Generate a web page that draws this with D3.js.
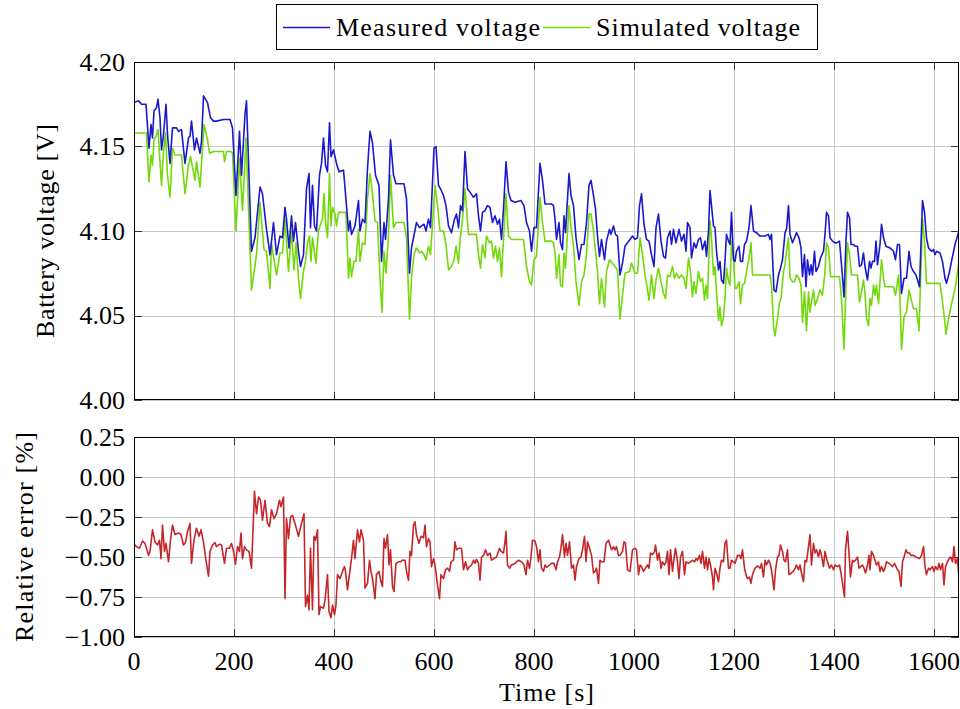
<!DOCTYPE html>
<html>
<head>
<meta charset="utf-8">
<script src="https://cdn.jsdelivr.net/npm/d3@7"></script>
<style>
  body { margin: 0; background: #fff; }
  text { font-family: "Liberation Serif", "Times New Roman", serif; fill: #000; }
</style>
</head>
<body>
<div id="chart"></div>
<script>
// ---- data ----
var timeTicks = [0, 200, 400, 600, 800, 1000, 1200, 1400, 1600];
var voltTicks = [4.00, 4.05, 4.10, 4.15, 4.20];
var errTicks = [0.25, 0, -0.25, -0.5, -0.75, -1.0];
var seriesNames = ["Measured voltage", "Simulated voltage"];

// [time s, voltage V]
var measured = [[0,4.176],[9,4.177],[15,4.175],[24,4.175],[30,4.149],[34,4.163],[37,4.155],[40,4.171],[45,4.173],[48,4.178],[52,4.167],[55,4.148],[59,4.157],[64,4.175],[67,4.157],[72,4.140],[77,4.161],[85,4.161],[89,4.159],[95,4.160],[102,4.140],[109,4.155],[112,4.156],[115,4.165],[121,4.148],[125,4.155],[132,4.146],[135,4.153],[139,4.180],[147,4.176],[153,4.167],[159,4.165],[165,4.165],[179,4.166],[192,4.166],[197,4.161],[204,4.121],[211,4.159],[215,4.133],[222,4.169],[225,4.177],[235,4.088],[242,4.096],[252,4.126],[257,4.122],[265,4.101],[272,4.086],[279,4.105],[285,4.086],[292,4.097],[297,4.096],[302,4.114],[305,4.107],[310,4.090],[315,4.109],[319,4.094],[323,4.105],[329,4.088],[333,4.079],[339,4.086],[345,4.125],[350,4.134],[353,4.102],[357,4.127],[361,4.103],[365,4.100],[371,4.133],[375,4.140],[379,4.155],[383,4.139],[387,4.135],[391,4.164],[394,4.144],[399,4.148],[405,4.140],[410,4.135],[419,4.136],[425,4.115],[429,4.100],[432,4.106],[435,4.098],[442,4.103],[449,4.118],[452,4.100],[457,4.107],[462,4.105],[467,4.137],[472,4.159],[477,4.152],[483,4.133],[490,4.127],[495,4.082],[500,4.105],[503,4.095],[509,4.119],[513,4.154],[519,4.133],[524,4.128],[540,4.128],[545,4.119],[551,4.075],[555,4.090],[559,4.096],[565,4.105],[571,4.102],[575,4.103],[580,4.104],[584,4.100],[589,4.107],[593,4.102],[600,4.149],[604,4.150],[609,4.127],[613,4.125],[619,4.121],[624,4.115],[629,4.103],[635,4.099],[641,4.107],[645,4.110],[649,4.102],[653,4.115],[657,4.112],[662,4.147],[667,4.125],[672,4.123],[679,4.120],[685,4.122],[689,4.109],[693,4.100],[697,4.111],[702,4.112],[707,4.115],[712,4.114],[717,4.105],[722,4.109],[727,4.104],[731,4.107],[735,4.095],[739,4.113],[744,4.141],[749,4.123],[754,4.118],[762,4.117],[774,4.118],[780,4.115],[785,4.105],[791,4.100],[795,4.088],[800,4.102],[805,4.102],[812,4.140],[817,4.130],[822,4.116],[835,4.116],[839,4.115],[842,4.107],[845,4.095],[850,4.105],[853,4.093],[857,4.089],[860,4.109],[863,4.099],[870,4.134],[874,4.121],[879,4.115],[884,4.096],[890,4.083],[895,4.092],[900,4.092],[905,4.105],[910,4.127],[914,4.130],[919,4.121],[923,4.113],[927,4.097],[931,4.085],[935,4.095],[941,4.083],[945,4.094],[951,4.101],[954,4.098],[959,4.103],[963,4.098],[967,4.097],[972,4.074],[977,4.081],[982,4.091],[987,4.093],[992,4.095],[997,4.097],[1002,4.095],[1007,4.096],[1011,4.115],[1015,4.122],[1020,4.104],[1025,4.095],[1030,4.094],[1035,4.086],[1040,4.079],[1044,4.102],[1049,4.110],[1054,4.094],[1059,4.085],[1063,4.084],[1067,4.096],[1072,4.100],[1075,4.092],[1079,4.101],[1084,4.093],[1090,4.101],[1095,4.094],[1100,4.098],[1104,4.088],[1107,4.105],[1112,4.102],[1115,4.084],[1120,4.093],[1124,4.090],[1129,4.095],[1133,4.096],[1137,4.089],[1142,4.094],[1145,4.085],[1149,4.100],[1152,4.124],[1155,4.115],[1159,4.103],[1162,4.102],[1165,4.088],[1169,4.077],[1172,4.082],[1175,4.071],[1179,4.069],[1182,4.082],[1185,4.098],[1189,4.094],[1192,4.092],[1195,4.111],[1199,4.083],[1202,4.082],[1205,4.088],[1210,4.091],[1213,4.082],[1217,4.082],[1221,4.092],[1225,4.094],[1230,4.102],[1234,4.115],[1239,4.100],[1245,4.099],[1252,4.097],[1262,4.097],[1269,4.098],[1272,4.095],[1275,4.098],[1280,4.065],[1284,4.064],[1289,4.074],[1293,4.078],[1297,4.083],[1302,4.099],[1305,4.101],[1309,4.115],[1312,4.098],[1317,4.093],[1321,4.096],[1325,4.099],[1330,4.096],[1334,4.090],[1337,4.073],[1341,4.086],[1344,4.067],[1347,4.083],[1351,4.074],[1354,4.080],[1357,4.074],[1361,4.088],[1364,4.076],[1369,4.079],[1373,4.084],[1379,4.088],[1382,4.098],[1385,4.111],[1389,4.109],[1392,4.096],[1397,4.094],[1402,4.093],[1405,4.093],[1411,4.094],[1415,4.080],[1420,4.061],[1424,4.094],[1427,4.111],[1431,4.108],[1434,4.092],[1439,4.092],[1442,4.091],[1447,4.091],[1451,4.079],[1455,4.080],[1459,4.087],[1462,4.079],[1467,4.071],[1471,4.082],[1474,4.078],[1477,4.082],[1481,4.082],[1484,4.094],[1487,4.080],[1492,4.092],[1495,4.104],[1499,4.096],[1504,4.091],[1512,4.090],[1519,4.088],[1523,4.083],[1527,4.092],[1531,4.092],[1535,4.063],[1540,4.072],[1545,4.072],[1550,4.088],[1554,4.079],[1559,4.076],[1564,4.074],[1567,4.071],[1571,4.067],[1577,4.118],[1581,4.111],[1585,4.096],[1589,4.090],[1595,4.088],[1599,4.089],[1602,4.086],[1605,4.088],[1612,4.087],[1617,4.082],[1622,4.072],[1625,4.069],[1631,4.076],[1635,4.082],[1642,4.092],[1650,4.100]];

var simulated = [[0,4.158],[25,4.158],[30,4.129],[34,4.145],[37,4.139],[40,4.154],[44,4.156],[48,4.160],[55,4.127],[59,4.147],[63,4.158],[67,4.133],[72,4.120],[77,4.149],[82,4.145],[89,4.145],[95,4.145],[102,4.122],[109,4.139],[113,4.144],[122,4.130],[125,4.141],[132,4.126],[140,4.163],[147,4.154],[151,4.146],[159,4.147],[179,4.147],[181,4.141],[185,4.147],[194,4.147],[197,4.146],[204,4.100],[211,4.143],[217,4.112],[224,4.155],[235,4.065],[245,4.086],[252,4.117],[260,4.089],[265,4.088],[272,4.066],[275,4.093],[282,4.079],[285,4.074],[292,4.087],[297,4.087],[302,4.107],[309,4.076],[315,4.100],[320,4.077],[324,4.093],[329,4.072],[333,4.060],[339,4.076],[343,4.082],[347,4.093],[351,4.097],[354,4.082],[357,4.096],[364,4.081],[369,4.100],[372,4.103],[377,4.107],[380,4.122],[383,4.105],[387,4.096],[391,4.134],[394,4.103],[397,4.114],[402,4.110],[405,4.103],[409,4.111],[424,4.111],[429,4.072],[432,4.084],[435,4.073],[440,4.082],[444,4.082],[449,4.101],[452,4.082],[457,4.093],[462,4.092],[467,4.119],[472,4.134],[477,4.122],[482,4.106],[487,4.105],[492,4.072],[496,4.052],[500,4.088],[504,4.075],[509,4.098],[513,4.133],[519,4.102],[524,4.105],[540,4.105],[545,4.096],[551,4.048],[555,4.072],[560,4.086],[565,4.090],[571,4.087],[575,4.088],[580,4.086],[584,4.083],[589,4.091],[593,4.086],[597,4.104],[602,4.127],[607,4.115],[612,4.100],[619,4.100],[624,4.092],[629,4.077],[635,4.079],[640,4.083],[644,4.091],[649,4.081],[652,4.094],[657,4.107],[662,4.125],[669,4.098],[685,4.098],[689,4.086],[693,4.078],[697,4.092],[702,4.084],[705,4.097],[711,4.093],[715,4.094],[719,4.084],[723,4.091],[727,4.082],[731,4.090],[735,4.073],[739,4.095],[744,4.122],[749,4.097],[755,4.095],[779,4.095],[785,4.079],[791,4.070],[795,4.068],[800,4.083],[805,4.085],[812,4.120],[817,4.105],[822,4.094],[835,4.094],[839,4.093],[842,4.087],[845,4.072],[850,4.086],[853,4.068],[857,4.067],[860,4.087],[863,4.078],[870,4.115],[874,4.102],[879,4.091],[884,4.070],[890,4.056],[895,4.070],[900,4.074],[905,4.086],[910,4.110],[914,4.110],[919,4.100],[923,4.088],[927,4.076],[931,4.057],[935,4.072],[941,4.055],[945,4.076],[951,4.083],[959,4.080],[967,4.077],[972,4.048],[977,4.062],[982,4.075],[991,4.076],[995,4.081],[1002,4.075],[1007,4.075],[1012,4.096],[1017,4.086],[1022,4.074],[1025,4.069],[1030,4.059],[1035,4.074],[1040,4.060],[1044,4.071],[1049,4.078],[1054,4.070],[1059,4.063],[1063,4.060],[1067,4.074],[1072,4.073],[1077,4.079],[1081,4.072],[1085,4.075],[1090,4.072],[1095,4.074],[1100,4.072],[1104,4.066],[1109,4.084],[1113,4.076],[1117,4.061],[1120,4.070],[1124,4.063],[1129,4.076],[1133,4.070],[1137,4.072],[1141,4.059],[1144,4.068],[1147,4.060],[1152,4.106],[1155,4.096],[1159,4.074],[1162,4.079],[1165,4.064],[1169,4.047],[1172,4.055],[1175,4.044],[1179,4.049],[1182,4.060],[1185,4.078],[1189,4.070],[1192,4.068],[1195,4.094],[1199,4.084],[1202,4.066],[1205,4.066],[1210,4.070],[1213,4.057],[1217,4.068],[1221,4.069],[1225,4.076],[1230,4.084],[1234,4.093],[1237,4.074],[1272,4.074],[1275,4.068],[1279,4.044],[1282,4.038],[1287,4.048],[1291,4.058],[1294,4.060],[1299,4.076],[1302,4.080],[1305,4.088],[1309,4.096],[1312,4.072],[1317,4.070],[1321,4.070],[1325,4.074],[1330,4.072],[1334,4.068],[1337,4.046],[1341,4.064],[1345,4.041],[1349,4.064],[1352,4.052],[1355,4.058],[1359,4.065],[1362,4.056],[1367,4.060],[1372,4.065],[1377,4.062],[1382,4.076],[1385,4.093],[1389,4.090],[1393,4.073],[1411,4.073],[1415,4.060],[1420,4.030],[1424,4.068],[1427,4.093],[1431,4.086],[1435,4.074],[1447,4.074],[1451,4.058],[1455,4.064],[1459,4.071],[1462,4.063],[1465,4.048],[1469,4.044],[1472,4.060],[1475,4.056],[1479,4.068],[1482,4.062],[1485,4.068],[1489,4.057],[1492,4.070],[1495,4.083],[1499,4.072],[1502,4.067],[1519,4.067],[1523,4.062],[1529,4.074],[1532,4.060],[1535,4.030],[1540,4.049],[1545,4.052],[1550,4.065],[1554,4.060],[1559,4.054],[1565,4.054],[1570,4.041],[1577,4.107],[1581,4.094],[1585,4.069],[1612,4.069],[1617,4.058],[1621,4.048],[1624,4.039],[1629,4.048],[1633,4.054],[1639,4.062],[1644,4.069],[1649,4.080],[1650,4.070]];

// [time s, relative error %]
var relError = [[0,-0.42],[5,-0.435],[11,-0.445],[17,-0.40],[22,-0.415],[29,-0.49],[32,-0.465],[37,-0.33],[42,-0.405],[47,-0.425],[51,-0.395],[54,-0.51],[57,-0.30],[61,-0.465],[64,-0.415],[69,-0.53],[73,-0.395],[77,-0.30],[82,-0.36],[89,-0.35],[94,-0.36],[99,-0.425],[103,-0.41],[107,-0.34],[112,-0.29],[115,-0.54],[120,-0.395],[125,-0.32],[130,-0.37],[134,-0.33],[139,-0.405],[143,-0.50],[149,-0.62],[152,-0.465],[157,-0.425],[162,-0.41],[165,-0.435],[171,-0.42],[175,-0.425],[181,-0.54],[185,-0.445],[191,-0.445],[195,-0.415],[199,-0.465],[203,-0.545],[207,-0.435],[211,-0.465],[214,-0.35],[217,-0.51],[221,-0.435],[225,-0.455],[230,-0.465],[235,-0.57],[241,-0.09],[245,-0.23],[249,-0.125],[253,-0.145],[257,-0.27],[262,-0.145],[267,-0.29],[271,-0.31],[275,-0.205],[280,-0.26],[285,-0.23],[291,-0.145],[294,-0.185],[299,-0.125],[302,-0.76],[305,-0.26],[309,-0.385],[313,-0.25],[317,-0.24],[322,-0.29],[329,-0.37],[335,-0.29],[340,-0.23],[343,-0.81],[347,-0.74],[350,-0.83],[353,-0.445],[357,-0.83],[360,-0.37],[363,-0.395],[367,-0.33],[370,-0.86],[373,-0.81],[379,-0.82],[382,-0.77],[387,-0.61],[390,-0.84],[394,-0.88],[397,-0.80],[401,-0.86],[404,-0.80],[407,-0.61],[412,-0.635],[417,-0.59],[421,-0.56],[423,-0.59],[427,-0.705],[432,-0.58],[435,-0.51],[439,-0.395],[442,-0.51],[447,-0.33],[451,-0.405],[454,-0.33],[459,-0.395],[462,-0.695],[467,-0.665],[471,-0.52],[474,-0.59],[477,-0.635],[482,-0.76],[485,-0.61],[490,-0.59],[494,-0.655],[497,-0.685],[500,-0.385],[503,-0.445],[507,-0.36],[510,-0.55],[513,-0.455],[517,-0.685],[520,-0.715],[524,-0.54],[529,-0.53],[533,-0.53],[537,-0.52],[542,-0.52],[545,-0.59],[549,-0.645],[552,-0.465],[555,-0.49],[559,-0.30],[562,-0.28],[565,-0.36],[570,-0.415],[574,-0.37],[579,-0.38],[582,-0.30],[585,-0.435],[589,-0.385],[592,-0.405],[595,-0.56],[599,-0.51],[602,-0.55],[607,-0.675],[611,-0.76],[614,-0.61],[619,-0.635],[623,-0.58],[627,-0.57],[631,-0.59],[634,-0.53],[639,-0.52],[642,-0.405],[645,-0.455],[650,-0.445],[655,-0.445],[659,-0.58],[663,-0.53],[667,-0.58],[671,-0.56],[675,-0.55],[679,-0.52],[682,-0.54],[685,-0.515],[689,-0.54],[692,-0.645],[695,-0.50],[699,-0.49],[703,-0.455],[707,-0.49],[712,-0.475],[715,-0.52],[720,-0.51],[725,-0.50],[731,-0.445],[734,-0.465],[739,-0.475],[742,-0.405],[744,-0.34],[747,-0.55],[751,-0.57],[755,-0.55],[762,-0.54],[769,-0.52],[775,-0.53],[780,-0.55],[784,-0.61],[787,-0.52],[791,-0.57],[794,-0.50],[797,-0.395],[802,-0.40],[805,-0.435],[809,-0.53],[812,-0.455],[815,-0.57],[819,-0.59],[822,-0.55],[825,-0.565],[831,-0.55],[835,-0.54],[840,-0.54],[844,-0.58],[847,-0.53],[851,-0.50],[854,-0.445],[857,-0.36],[861,-0.50],[864,-0.415],[867,-0.49],[871,-0.405],[875,-0.57],[879,-0.55],[882,-0.645],[885,-0.56],[890,-0.51],[894,-0.50],[897,-0.455],[901,-0.37],[904,-0.53],[907,-0.405],[912,-0.455],[915,-0.49],[919,-0.60],[922,-0.59],[925,-0.57],[929,-0.665],[932,-0.52],[935,-0.53],[940,-0.53],[944,-0.415],[949,-0.395],[952,-0.425],[955,-0.455],[959,-0.435],[962,-0.455],[965,-0.435],[969,-0.49],[972,-0.49],[977,-0.465],[980,-0.405],[983,-0.415],[987,-0.58],[992,-0.59],[997,-0.455],[1002,-0.445],[1005,-0.455],[1009,-0.61],[1012,-0.55],[1015,-0.56],[1019,-0.59],[1023,-0.57],[1027,-0.55],[1030,-0.57],[1033,-0.475],[1037,-0.485],[1041,-0.465],[1043,-0.425],[1047,-0.52],[1050,-0.475],[1054,-0.57],[1057,-0.53],[1061,-0.55],[1064,-0.53],[1067,-0.465],[1070,-0.61],[1073,-0.455],[1077,-0.59],[1080,-0.51],[1083,-0.445],[1087,-0.53],[1090,-0.635],[1093,-0.50],[1097,-0.465],[1101,-0.61],[1104,-0.53],[1109,-0.54],[1113,-0.53],[1117,-0.52],[1121,-0.53],[1124,-0.51],[1127,-0.52],[1131,-0.49],[1134,-0.54],[1137,-0.465],[1141,-0.57],[1144,-0.50],[1147,-0.58],[1150,-0.51],[1153,-0.55],[1157,-0.625],[1159,-0.705],[1162,-0.57],[1165,-0.60],[1169,-0.655],[1172,-0.57],[1175,-0.52],[1179,-0.53],[1182,-0.415],[1185,-0.395],[1189,-0.57],[1192,-0.57],[1195,-0.52],[1199,-0.53],[1202,-0.54],[1207,-0.49],[1211,-0.49],[1214,-0.51],[1217,-0.455],[1221,-0.57],[1224,-0.61],[1227,-0.635],[1231,-0.625],[1234,-0.665],[1237,-0.61],[1242,-0.57],[1247,-0.555],[1252,-0.57],[1255,-0.54],[1259,-0.625],[1262,-0.52],[1265,-0.55],[1269,-0.52],[1272,-0.54],[1275,-0.58],[1280,-0.705],[1283,-0.58],[1287,-0.50],[1290,-0.49],[1293,-0.425],[1297,-0.465],[1300,-0.52],[1303,-0.53],[1307,-0.455],[1310,-0.61],[1315,-0.60],[1321,-0.58],[1325,-0.55],[1329,-0.58],[1332,-0.55],[1335,-0.60],[1339,-0.655],[1342,-0.52],[1345,-0.53],[1349,-0.435],[1352,-0.36],[1355,-0.55],[1359,-0.415],[1362,-0.475],[1365,-0.455],[1369,-0.50],[1372,-0.455],[1375,-0.49],[1379,-0.56],[1382,-0.465],[1385,-0.51],[1391,-0.57],[1395,-0.55],[1399,-0.58],[1402,-0.55],[1407,-0.56],[1411,-0.55],[1414,-0.60],[1417,-0.665],[1421,-0.75],[1423,-0.455],[1427,-0.34],[1430,-0.475],[1433,-0.625],[1437,-0.52],[1440,-0.53],[1443,-0.52],[1447,-0.50],[1450,-0.57],[1453,-0.56],[1457,-0.55],[1460,-0.57],[1463,-0.60],[1467,-0.55],[1470,-0.49],[1472,-0.58],[1475,-0.465],[1479,-0.49],[1482,-0.52],[1485,-0.55],[1489,-0.53],[1492,-0.59],[1495,-0.56],[1499,-0.59],[1502,-0.57],[1505,-0.53],[1510,-0.54],[1514,-0.55],[1517,-0.56],[1521,-0.54],[1524,-0.56],[1527,-0.58],[1530,-0.59],[1534,-0.685],[1537,-0.53],[1541,-0.49],[1544,-0.455],[1547,-0.475],[1551,-0.475],[1554,-0.49],[1559,-0.49],[1564,-0.50],[1571,-0.51],[1575,-0.49],[1579,-0.435],[1582,-0.56],[1585,-0.61],[1589,-0.57],[1592,-0.58],[1597,-0.56],[1600,-0.59],[1603,-0.56],[1607,-0.58],[1610,-0.54],[1613,-0.58],[1617,-0.54],[1620,-0.675],[1623,-0.56],[1627,-0.53],[1630,-0.51],[1633,-0.50],[1637,-0.53],[1640,-0.435],[1643,-0.54],[1647,-0.51],[1650,-0.635]];

// ---- layout ----
var W = 960, H = 709;
var left = 134, right = 959;
var topPanel = {y0: 62, y1: 400};
var botPanel = {y0: 437, y1: 637};
var blue = "#1a1acc", green = "#74d90a", red = "#c4262a";
var gridColor = "#c8c8c8";
var fontSize = 26;

var svg = d3.select("#chart").append("svg")
  .attr("width", W)
  .attr("height", H);

var xScale = d3.scaleLinear().domain([0, 1650]).range([left, right]);
var yTop = d3.scaleLinear().domain([4.0, 4.2]).range([topPanel.y1, topPanel.y0]);
var yBot = d3.scaleLinear().domain([-1.0, 0.25]).range([botPanel.y1, botPanel.y0]);

var fmt = d3.format(".2f");

function drawPanel(p, yScale, yTicks, id) {
  var g = svg.append("g");

  svg.append("clipPath").attr("id", id)
    .append("rect")
    .attr("x", left).attr("y", p.y0)
    .attr("width", right - left).attr("height", p.y1 - p.y0);

  // grid
  g.selectAll(".vg").data(timeTicks).enter().append("line")
    .attr("x1", function(d) { return Math.round(xScale(d)) + 0.5; })
    .attr("x2", function(d) { return Math.round(xScale(d)) + 0.5; })
    .attr("y1", p.y0).attr("y2", p.y1)
    .attr("stroke", gridColor).attr("stroke-width", 1);
  g.selectAll(".hg").data(yTicks).enter().append("line")
    .attr("x1", left).attr("x2", right)
    .attr("y1", function(d) { return Math.round(yScale(d)) + 0.5; })
    .attr("y2", function(d) { return Math.round(yScale(d)) + 0.5; })
    .attr("stroke", gridColor).attr("stroke-width", 1);

  // tick marks, inside, on all four sides
  var tl = 8;
  g.selectAll(".ty").data(yTicks).enter().append("path")
    .attr("d", function(d) {
      var y = Math.round(yScale(d)) + 0.5;
      return "M" + left + "," + y + "h" + tl + "M" + right + "," + y + "h" + (-tl);
    })
    .attr("stroke", "#333").attr("stroke-width", 1);
  g.selectAll(".tx").data(timeTicks).enter().append("path")
    .attr("d", function(d) {
      var x = Math.round(xScale(d)) + 0.5;
      return "M" + x + "," + p.y1 + "v" + (-tl) + "M" + x + "," + p.y0 + "v" + tl;
    })
    .attr("stroke", "#333").attr("stroke-width", 1);

  // y labels
  g.selectAll(".yl").data(yTicks).enter().append("text")
    .attr("x", left - 9)
    .attr("y", function(d) { return yScale(d); })
    .attr("dy", "0.33em")
    .attr("text-anchor", "end")
    .style("font-size", fontSize + "px")
    .text(function(d) { return fmt(d); });

  return g;
}

drawPanel(topPanel, yTop, voltTicks, "clipTop");
drawPanel(botPanel, yBot, errTicks, "clipBot");

var lineTop = d3.line()
  .x(function(d) { return xScale(d[0]); })
  .y(function(d) { return yTop(d[1]); });
var lineBot = d3.line()
  .x(function(d) { return xScale(d[0]); })
  .y(function(d) { return yBot(d[1]); });

svg.append("path").datum(simulated)
  .attr("clip-path", "url(#clipTop)")
  .attr("d", lineTop)
  .attr("fill", "none").attr("stroke", green)
  .attr("stroke-width", 1.6).attr("stroke-linejoin", "round");
svg.append("path").datum(measured)
  .attr("clip-path", "url(#clipTop)")
  .attr("d", lineTop)
  .attr("fill", "none").attr("stroke", blue)
  .attr("stroke-width", 1.6).attr("stroke-linejoin", "round");
svg.append("path").datum(relError)
  .attr("clip-path", "url(#clipBot)")
  .attr("d", lineBot)
  .attr("fill", "none").attr("stroke", red)
  .attr("stroke-width", 1.6).attr("stroke-linejoin", "round");

// frames
[topPanel, botPanel].forEach(function(p) {
  svg.append("rect")
    .attr("x", left + 0.5).attr("y", p.y0 + 0.5)
    .attr("width", right - left - 1).attr("height", p.y1 - p.y0 - 1)
    .attr("fill", "none").attr("stroke", "#000").attr("stroke-width", 1);
});

// x tick labels (bottom panel only)
svg.selectAll(".xl").data(timeTicks).enter().append("text")
  .attr("x", function(d) { return xScale(d); })
  .attr("y", 670)
  .attr("text-anchor", "middle")
  .style("font-size", fontSize + "px")
  .text(function(d) { return d; });

// axis titles
svg.append("text")
  .attr("x", (left + right) / 2).attr("y", 701)
  .attr("text-anchor", "middle")
  .attr("textLength", 95)
  .style("font-size", fontSize + "px")
  .text("Time [s]");
svg.append("text")
  .attr("transform", "translate(54," + (topPanel.y0 + topPanel.y1) / 2 + ") rotate(-90)")
  .attr("text-anchor", "middle")
  .attr("textLength", 214)
  .style("font-size", fontSize + "px")
  .text("Battery voltage [V]");
svg.append("text")
  .attr("transform", "translate(33," + (botPanel.y0 + botPanel.y1) / 2 + ") rotate(-90)")
  .attr("text-anchor", "middle")
  .attr("textLength", 210)
  .style("font-size", fontSize + "px")
  .text("Relative error [%]");

// legend
var legend = svg.append("g");
legend.append("rect")
  .attr("x", 276.5).attr("y", 4.5)
  .attr("width", 541).attr("height", 45)
  .attr("fill", "#fff").attr("stroke", "#000").attr("stroke-width", 1);
var legX = [283, 543];
var legColors = [blue, green];
seriesNames.forEach(function(name, i) {
  legend.append("line")
    .attr("x1", legX[i]).attr("x2", legX[i] + 47)
    .attr("y1", 27.5).attr("y2", 27.5)
    .attr("stroke", legColors[i]).attr("stroke-width", 1.6);
  legend.append("text")
    .attr("x", legX[i] + 53).attr("y", 36)
    .attr("textLength", 204)
    .style("font-size", fontSize + "px")
    .text(name);
});
</script>
</body>
</html>
